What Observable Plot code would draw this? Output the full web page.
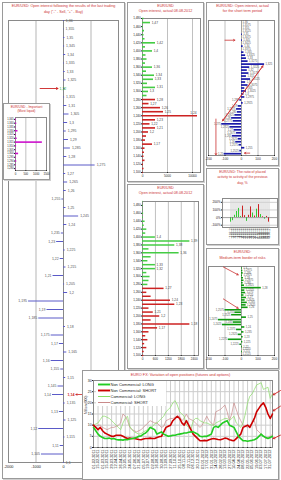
<!DOCTYPE html>
<html><head><meta charset="utf-8">
<script src="https://cdn.jsdelivr.net/npm/d3@7"></script>
<script src="https://cdn.jsdelivr.net/npm/@observablehq/plot@0.6"></script>
<style>
html,body{margin:0;padding:0;background:#fff;}
#root{position:relative;width:281px;height:480px;overflow:hidden;background:#fff;}
.panel{position:absolute;border:1px solid #9a9a9a;background:#fff;box-sizing:border-box;box-shadow:1px 1px 0 #d0d0d0;}
</style></head><body><div id="root"></div>
<script>
// ---------- DATA ----------
// Panel A: open interest after last trading day
const pricesA = [1.360,1.355,1.350,1.345,1.340,1.335,1.330,1.325,1.320,1.315,1.310,1.305,1.300,1.295,1.290,1.285,1.280,1.275,1.270,1.265,1.260,1.255,1.250,1.245,1.240,1.235,1.230,1.225,1.220,1.215,1.210,1.205,1.200,1.195,1.190,1.185,1.180,1.175,1.170,1.165,1.160,1.155,1.150,1.145,1.140,1.135,1.130,1.125,1.120,1.115,1.110,1.105,1.100];
const valuesA = [30,20,50,40,80,30,60,90,60,40,120,200,150,100,180,250,120,1150,80,150,100,-60,90,550,120,-80,-250,60,-120,90,-380,40,150,-1270,-600,-900,70,-450,-150,120,-450,-100,80,-200,-400,60,-150,90,-900,50,-120,-800,30];
const ticksA = [-2000,-1000,0,1000,2000];
const markA = {price:1.320, from:-850, to:-200};
const currentA = {price:1.140, from:900, to:450};
// Inset: most liquid levels
const pricesI = [1.345,1.340,1.335,1.330,1.325,1.320,1.315,1.310,1.305,1.300,1.295,1.290,1.285,1.280];
const valuesI = [40,60,30,120,40,80,1300,50,30,150,40,60,30,20];
const ticksI = [0,500,1000,1500];
// Panel B: open interest (options) 08.08.2012
const pricesB = [1.48,1.47,1.46,1.45,1.44,1.43,1.42,1.41,1.40,1.39,1.38,1.37,1.36,1.35,1.34,1.33,1.32,1.31,1.30,1.29,1.28,1.27,1.26,1.25,1.24,1.23,1.22,1.21,1.20,1.19,1.18,1.17,1.16,1.15,1.14,1.13,1.12,1.11,1.10];
const valuesB = [300,1600,200,400,300,500,2600,600,2000,700,900,600,2000,800,2400,2200,1000,2600,1200,900,2600,1300,3600,4200,11000,2600,1500,2600,1200,800,600,2000,500,400,300,500,200,300,150];
const ticksBy = [1.48,1.46,1.44,1.42,1.40,1.38,1.36,1.34,1.32,1.30,1.28,1.26,1.24,1.22,1.20,1.18,1.16,1.14,1.12,1.10];
const ticksBx = [0,5000,10000];
// Panel C: open interest 08.08.2012
const pricesC = [1.49,1.48,1.47,1.46,1.45,1.44,1.43,1.42,1.41,1.40,1.39,1.38,1.37,1.36,1.35,1.34,1.33,1.32,1.31,1.30,1.29,1.28,1.27,1.26,1.25,1.24,1.23,1.22,1.21,1.20,1.19,1.18,1.17,1.16,1.15,1.14,1.13,1.12,1.11,1.10];
const valuesC = [20,30,20,50,40,120,80,200,150,600,2200,1500,300,1700,400,250,600,600,200,350,300,250,1000,200,400,1300,1500,300,500,800,400,2200,700,300,150,250,100,200,80,60];
const ticksCx = [0,600,1200,1800,2400];
// Panel E: short term open interest
const pricesE = [1.3600,1.3575,1.3550,1.3525,1.3500,1.3475,1.3450,1.3425,1.3400,1.3375,1.3350,1.3325,1.3300,1.3275,1.3250,1.3225,1.3200,1.3175,1.3150,1.3125,1.3100,1.3075,1.3050,1.3025,1.3000,1.2975,1.2950,1.2925,1.2900,1.2875,1.2850,1.2825,1.2800,1.2775,1.2750,1.2725,1.2700,1.2675,1.2650,1.2625,1.2600,1.2575,1.2550,1.2525,1.2500];
const valuesE = [0,0,0,0,5,0,5,0,10,0,15,25,30,40,140,50,35,45,30,55,25,40,20,30,15,20,-10,10,-20,-30,-25,-40,-60,-50,-120,-70,-45,-30,-55,-20,-35,-15,20,-10,-105];
const ticksSym = [-200,-100,0,100,200];
const arrowsE = [
  {x1:-115,y1:1.2775,x2:130,y2:1.3235},{x1:130,y1:1.3235,x2:-115,y2:1.2775},
  {x1:-155,y1:1.2790,x2:-155,y2:1.2490},{x1:50,y1:1.2505,x2:18,y2:1.2505},
  {x1:-100,y1:1.3450,x2:-40,y2:1.3450}];
// Panel F: ratio of activity, %
const datesF = ["12.07.12","13.07.12","16.07.12","17.07.12","18.07.12","19.07.12","20.07.12","23.07.12","24.07.12","25.07.12","26.07.12","27.07.12","30.07.12","31.07.12","01.08.12","02.08.12","03.08.12","06.08.12","07.08.12","08.08.12"];
const valuesF = [-60,-40,30,80,120,15,150,25,-50,30,140,60,20,110,170,40,10,-20,15,-60];
const signF = ["g","g","g","g","g","g","r","r","g","r","r","g","r","g","r","g","r","g","r","r"];
const ticksF = [-100,0,100,200];
// Panel G: medium-term border of risks
const pricesG = [1.3000,1.2975,1.2950,1.2925,1.2900,1.2875,1.2850,1.2825,1.2800,1.2775,1.2750,1.2725,1.2700,1.2675,1.2650,1.2625,1.2600,1.2575,1.2550,1.2525,1.2500,1.2475,1.2450,1.2425,1.2400,1.2375,1.2350,1.2325,1.2300,1.2275,1.2250,1.2225,1.2200,1.2175,1.2150,1.2125];
const valuesG = [5,8,10,6,12,15,10,18,120,20,25,15,30,22,35,28,40,-100,-40,-60,30,-140,-50,-115,20,-30,15,-20,10,-80,8,-10,5,0,5,0];
const arrowsG = [{x1:-110,y1:1.3010,x2:-20,y2:1.2930},{x1:-110,y1:1.2685,x2:-20,y2:1.2590}];
// Panel D: EURO FX open positions (COT), weekly
const datesD = ["01.02.2011","15.02.2011","01.03.2011","15.03.2011","29.03.2011","12.04.2011","26.04.2011","10.05.2011","24.05.2011","07.06.2011","21.06.2011","05.07.2011","19.07.2011","02.08.2011","16.08.2011","30.08.2011","13.09.2011","27.09.2011","11.10.2011","25.10.2011","08.11.2011","22.11.2011","06.12.2011","20.12.2011","03.01.2012","17.01.2012","31.01.2012","14.02.2012","28.02.2012","13.03.2012","27.03.2012","10.04.2012","24.04.2012","08.05.2012","22.05.2012","05.06.2012","19.06.2012","03.07.2012","17.07.2012","31.07.2012"];
const ncLong = [9,7.5,6,5,4.5,4,4,4.2,3.8,4, 3.6,3.4,3.5,3.3,3.6,3.5,3.8,4,4.2,4.5, 5,5.2,6,6.5,7.5,9,8.5,8,6,6.5, 7,6,5.5,5,5.2,5.5,5.5,5.8,6,6.2, 6.5,6.5,6.8,7,7,6.5,6,5,4.8,5, 5,5.5,6,9,9.5,9,10,11,11.5,12, 10,9.5,9,7,5,4,3,3,2.8,3, 3.2,3.5,4,5,6,5,4.5,4,4.5,5];
const ncShort = [10,9,8,9,7.5,6.5,6,5.5,5,5, 5.5,5.5,5.5,5,4.5,4,4.2,4,4,3.8, 3.6,3.5,3.8,4,4,4.2,4,4,4.5,4.8, 5,7,9,9.5,10,12,13,14,13,11, 10,12,10,8,6,5,4,3,3,3.2, 3,3.5,3.8,4,3.8,3.6,3.5,3.8,4.2,4, 3.5,3.2,3,4,5,6,9,9.5,10,9, 11,13,16,17.5,19,20,18,15,13,15];
const commLong = [10,10.5,11,12.5,14,14,13.5,13,12,11, 10,9,8,11,13,14,9.5,8,7,6.5, 6,6.2,7,7.5,8,9,9.5,10.5,11,12, 13,14,16,17,18,20,21,19,16,15, 14,10,9,8,12,13,13,12,11.5,11, 11,10.5,10,10,11,11.5,12,12.5,13,13, 12,13,14,11,10,9,11,15,20,23, 24,26,28,28.5,29,26,26.5,27,22,24];
const commShort = [9,9.5,10,10,9,8.5,8,8.5,9,9, 9.5,10,11,15,14,12,9,8,7.5,7, 7.5,8,9,10,11,12,11.5,11,11,10, 9,9.5,12,12.5,13,13,13.5,14,14,12, 13,15,13,12.5,12,11,10,9,10,12, 14,12,11,10,16,16.5,17,18,19,16, 12,15,20,17,14,12,10,9.5,9,10, 11,12,8,7,6,5,4,4.5,5,6];
const ticksDy = [0,5,10,15,20,25,30];
const arrowsD = [{x1:82.5,y1:25.5,x2:79.3,y2:23.6},{x1:82.5,y1:18.5,x2:79.3,y2:16.4},{x1:82.5,y1:5.5,x2:79.3,y2:4.0}];
const seriesNames = ["Non Commercial: LONG","Non Commercial: SHORT","Commercial: LONG","Commercial: SHORT"];
const seriesColors = ["#22cc22","#cc0000","#88dd66","#c98a8a"];
const seriesWidths = [1.6,1.6,0.7,0.7];

// ---------- HELPERS ----------
const FONT = "Liberation Sans, Arial, sans-serif";
const TRED = "#cc3333";
const NS = "http://www.w3.org/2000/svg";
const root = document.getElementById("root");
const fmt = p => String(+p.toFixed(4)).replace(".", ",");
const fmt3 = p => d3.format(".3f")(p).replace(".", ",");
const tf = d => String(d);
const st = fs => ({fontSize: fs + "px", fontFamily: FONT, background: "transparent", overflow: "visible", color: "#222"});

function box(x, y, w, h, lines, y0, step, size) {
  const d = document.createElement("div");
  d.className = "panel";
  Object.assign(d.style, {left: x + "px", top: y + "px", width: w + "px", height: h + "px"});
  const s = document.createElementNS(NS, "svg");
  s.setAttribute("width", w); s.setAttribute("height", h);
  s.style.position = "absolute"; s.style.left = "-1px"; s.style.top = "-1px"; s.style.overflow = "visible";
  lines.forEach((t, i) => {
    const e = document.createElementNS(NS, "text");
    e.setAttribute("x", w / 2); e.setAttribute("y", y0 + i * step);
    e.setAttribute("text-anchor", "middle"); e.setAttribute("font-size", size);
    e.setAttribute("fill", TRED); e.setAttribute("font-family", FONT);
    e.textContent = t; s.appendChild(e);
  });
  d.appendChild(s); root.appendChild(d);
}
function put(svg, x, y) {
  svg.style.position = "absolute"; svg.style.left = x + "px"; svg.style.top = y + "px";
  root.appendChild(svg);
}
function ladder(prices, values) { return prices.map((p, i) => ({price: p, value: values[i]})); }

// ---------- PANEL A ----------
box(2, 2, 123, 477, ["EUR/USD: Open interest following the results of the last trading", "day (\"-\" - Sell, \"+\" - Buy)"], 4.6, 6, 3.7);
const rowsA = ladder(pricesA, valuesA);
put(Plot.plot({
  width: 121, height: 460, marginLeft: 5, marginRight: 6, marginTop: 6, marginBottom: 12,
  style: st(4),
  x: {domain: [-2000, 2000]},
  y: {domain: [1.10, 1.36], axis: null},
  marks: [
    Plot.gridX({ticks: [-1000, 1000], stroke: "#b5b5b5", strokeOpacity: 1}),
    Plot.frame({stroke: "#8a8a8a"}),
    Plot.ruleX([0], {stroke: "#555", strokeWidth: 0.7}),
    Plot.axisX({ticks: ticksA, tickFormat: tf, tickSize: 0, tickPadding: 2.5, fontSize: 3.8, label: null}),
    Plot.ruleY(rowsA, {y: "price", x1: 0, x2: "value", stroke: "#5a5ac8", strokeWidth: 1}),
    Plot.text(rowsA, {filter: d => d.value >= 0 && d.price !== markA.price, x: "value", y: "price", text: d => fmt(d.price), textAnchor: "start", dx: 1.5, fontSize: 3.5, fill: "#555"}),
    Plot.text(rowsA, {filter: d => d.value < 0, x: "value", y: "price", text: d => fmt(d.price), textAnchor: "end", dx: -1.5, fontSize: 3.5, fill: "#555"}),
    Plot.arrow([markA], {x1: "from", x2: "to", y1: "price", y2: "price", stroke: "#cc2222", strokeWidth: 0.9, headLength: 3}),
    Plot.text([markA], {x: 0, y: "price", text: d => fmt(d.price), textAnchor: "start", dx: -4, fontSize: 3.5, fill: "#22aa22"}),
    Plot.text([currentA], {x: 0, y: "price", text: d => fmt(d.price), textAnchor: "start", dx: 4, fontSize: 3.6, fill: "#cc2222", fontWeight: "bold"}),
    Plot.arrow([currentA], {x1: "from", x2: "to", y1: "price", y2: "price", stroke: "#cc2222", strokeWidth: 0.8, headLength: 2.5})
  ]
}), 3, 14);

// ---------- INSET ----------
box(3, 103, 47, 77, ["EUR/USD - Important", "(Most liquid)"], 4.6, 4.8, 3.3);
const rowsI = ladder(pricesI, valuesI);
put(Plot.plot({
  width: 45, height: 64, marginLeft: 11, marginRight: 3, marginTop: 3, marginBottom: 8,
  style: st(3),
  x: {domain: [0, 1500]},
  y: {domain: [1.2775, 1.3475]},
  marks: [
    Plot.gridX({ticks: [500, 1000], stroke: "#c0c0c0", strokeOpacity: 1}),
    Plot.frame({stroke: "#8a8a8a"}),
    Plot.axisX({ticks: ticksI, tickFormat: tf, tickSize: 1, tickPadding: 1, fontSize: 2.8, label: null}),
    Plot.axisY({ticks: pricesI, tickFormat: fmt3, tickSize: 1, tickPadding: 0.8, fontSize: 2.6, label: null}),
    Plot.ruleY(rowsI, {y: "price", x1: 0, x2: "value", stroke: "#cc11cc", strokeWidth: 1.6})
  ]
}), 4, 114);

// ---------- PANEL B ----------
box(127, 2, 77, 180, ["EUR/USD", "Open interest, actual 08.08.2012"], 4.6, 4.9, 3.7);
const rowsB = ladder(pricesB, valuesB);
put(Plot.plot({
  width: 75, height: 166, marginLeft: 14, marginRight: 3, marginTop: 3, marginBottom: 9,
  style: st(3.4),
  x: {domain: [0, 11600]},
  y: {domain: [1.10, 1.48]},
  marks: [
    Plot.gridX({ticks: [5000, 10000], stroke: "#c0c0c0", strokeOpacity: 1}),
    Plot.frame({stroke: "#8a8a8a"}),
    Plot.axisX({ticks: ticksBx, tickFormat: tf, tickSize: 1, tickPadding: 1, fontSize: 3.1, label: null}),
    Plot.axisY({ticks: ticksBy, tickFormat: fmt3, tickSize: 1, tickPadding: 0.8, fontSize: 3.0, label: null}),
    Plot.ruleY(rowsB, {y: "price", x1: 0, x2: "value", stroke: d => d.price >= 1.29 ? "#44cc44" : "#cc2222", strokeWidth: 1.6}),
    Plot.text(rowsB, {filter: d => d.value > 1100 && d.value < 10000, x: "value", y: "price", text: d => fmt(d.price), textAnchor: "start", dx: 1.2, fontSize: 3.2, fill: "#444"}),
    Plot.text(rowsB, {filter: d => d.value >= 10000, x: "value", y: "price", text: d => fmt(d.price), textAnchor: "end", dx: -1, dy: -2.5, fontSize: 3.2, fill: "#444"})
  ]
}), 128, 15);

// ---------- PANEL C ----------
box(127, 184, 77, 185, ["EUR/USD", "Open interest, actual 08.08.2012"], 4.6, 4.9, 3.7);
const rowsC = ladder(pricesC, valuesC);
put(Plot.plot({
  width: 75, height: 170, marginLeft: 14, marginRight: 5, marginTop: 3, marginBottom: 13,
  style: st(3.4),
  x: {domain: [0, 2600]},
  y: {domain: [1.10, 1.49]},
  marks: [
    Plot.gridX({ticks: [600, 1200, 1800, 2400], stroke: "#c0c0c0", strokeOpacity: 1}),
    Plot.frame({stroke: "#8a8a8a"}),
    Plot.axisX({ticks: ticksCx, tickFormat: tf, tickSize: 1, tickPadding: 1.5, fontSize: 3.1, label: null}),
    Plot.axisY({ticks: ticksBy, tickFormat: fmt3, tickSize: 1, tickPadding: 0.8, fontSize: 3.0, label: null}),
    Plot.ruleY(rowsC, {y: "price", x1: 0, x2: "value", stroke: d => d.price >= 1.28 ? "#44cc44" : "#cc2222", strokeWidth: 1.5}),
    Plot.text(rowsC, {filter: d => d.value >= 500, x: "value", y: "price", text: d => fmt(d.price), textAnchor: "start", dx: 1.2, fontSize: 3.2, fill: "#444"})
  ]
}), 128, 198);

// ---------- PANEL E ----------
box(206, 2, 73, 164, ["EUR/USD: Open interest, actual", "for the short term period"], 5.0, 5.3, 3.7);
const rowsE = ladder(pricesE, valuesE);
put(Plot.plot({
  width: 71, height: 150, marginLeft: 1, marginRight: 4, marginTop: 4, marginBottom: 11,
  style: st(3.3),
  x: {domain: [-200, 200]},
  y: {domain: [1.2485, 1.3615], axis: null},
  marks: [
    Plot.gridX({ticks: [-100, 100], stroke: "#c0c0c0", strokeOpacity: 1}),
    Plot.frame({stroke: "#8a8a8a"}),
    Plot.ruleX([0], {stroke: "#666", strokeWidth: 0.6}),
    Plot.axisX({ticks: ticksSym, tickFormat: tf, tickSize: 1, tickPadding: 1.5, fontSize: 3.2, label: null}),
    Plot.ruleY(rowsE, {y: "price", x1: 0, x2: "value", stroke: "#1a1aa8", strokeWidth: 1.7}),
    Plot.text(rowsE, {filter: d => d.value >= 0, x: "value", y: "price", text: d => fmt(d.price), textAnchor: "start", dx: 1, fontSize: 2.7, fill: "#555"}),
    Plot.text(rowsE, {filter: d => d.value < 0, x: "value", y: "price", text: d => fmt(d.price), textAnchor: "end", dx: -1, fontSize: 2.7, fill: "#555"}),
    Plot.arrow(arrowsE, {x1: "x1", y1: "y1", x2: "x2", y2: "y2", stroke: "#cc3333", strokeWidth: 0.8, headLength: 3})
  ]
}), 207, 16);

// ---------- PANEL F ----------
box(206, 168, 73, 77, ["EUR/USD: The ratio of placed", "activity to activity of the previous", "day, %"], 5, 5.3, 3.5);
const rowsF = datesF.map((d, i) => ({date: d, value: valuesF[i], sign: signF[i]}));
put(Plot.plot({
  width: 71, height: 55, marginLeft: 15, marginRight: 1, marginTop: 8, marginBottom: 18,
  style: st(3),
  x: {domain: datesF, padding: 0.3},
  y: {domain: [-130, 250]},
  marks: [
    Plot.gridX({stroke: "#d0d0d0", strokeOpacity: 1}),
    Plot.gridY({ticks: ticksF, stroke: "#d0d0d0", strokeOpacity: 1}),
    Plot.frame({stroke: "#8a8a8a"}),
    Plot.barY(rowsF, {x: "date", y: "value", fill: d => d.sign === "g" ? "#33cc33" : "#cc2222"}),
    Plot.ruleY([0], {stroke: "#777", strokeWidth: 0.5}),
    Plot.axisY({ticks: ticksF, tickFormat: d => d + "%", tickSize: 1, tickPadding: 0.8, fontSize: 3.2, label: null}),
    Plot.axisX({tickRotate: -90, tickSize: 0, tickPadding: 1, fontSize: 2.6, label: null})
  ]
}), 207, 190);

// ---------- PANEL G ----------
box(206, 248, 73, 121, ["EUR/USD:", "Medium-term border of risks"], 5.2, 5.5, 3.7);
const rowsG = ladder(pricesG, valuesG);
put(Plot.plot({
  width: 71, height: 106, marginLeft: 1, marginRight: 4, marginTop: 4, marginBottom: 13,
  style: st(3.3),
  x: {domain: [-200, 200]},
  y: {domain: [1.2110, 1.3015], axis: null},
  marks: [
    Plot.gridX({ticks: [-100, 100], stroke: "#c0c0c0", strokeOpacity: 1}),
    Plot.frame({stroke: "#8a8a8a"}),
    Plot.ruleX([0], {stroke: "#666", strokeWidth: 0.6}),
    Plot.axisX({ticks: ticksSym, tickFormat: tf, tickSize: 1, tickPadding: 1.5, fontSize: 3.2, label: null}),
    Plot.ruleY(rowsG, {y: "price", x1: 0, x2: "value", stroke: "#119911", strokeWidth: 1.6}),
    Plot.text(rowsG, {filter: d => d.value >= 0, x: "value", y: "price", text: d => fmt(d.price), textAnchor: "start", dx: 1, fontSize: 2.7, fill: "#555"}),
    Plot.text(rowsG, {filter: d => d.value < 0, x: "value", y: "price", text: d => fmt(d.price), textAnchor: "end", dx: -1, fontSize: 2.7, fill: "#555"}),
    Plot.arrow(arrowsG, {x1: "x1", y1: "y1", x2: "x2", y2: "y2", stroke: "#cc3333", strokeWidth: 0.8, headLength: 3})
  ]
}), 207, 262);

// ---------- PANEL D ----------
box(82, 370, 197, 110, ["EURO FX: Variation of open positions (futures and options)"], 6.2, 6, 3.8);
const ticksDx = datesD.map((d, i) => i * 2);
const series = [ncLong, ncShort, commLong, commShort];
put(Plot.plot({
  width: 196, height: 102, marginLeft: 10, marginRight: 7, marginTop: 3, marginBottom: 32,
  style: st(3.6),
  x: {domain: [0, 79]},
  y: {domain: [0, 30]},
  marks: [
    Plot.gridX({ticks: ticksDx, stroke: "#cdcdcd", strokeOpacity: 1}),
    Plot.gridY({ticks: ticksDy, stroke: "#cdcdcd", strokeOpacity: 1}),
    Plot.frame({stroke: "#8a8a8a"}),
    Plot.axisY({ticks: ticksDy, tickSize: 1, tickPadding: 0.8, fontSize: 3.5, label: null}),
    Plot.axisX({ticks: ticksDx, tickFormat: i => datesD[i / 2], tickRotate: -90, tickSize: 1, tickPadding: 1, fontSize: 3.9, label: null}),
    Plot.text(["Million (000)"], {text: d => d, frameAnchor: "left", rotate: -90, dx: -7.5, fontSize: 3.4, fill: "#333"}),
    ...[3, 2, 1, 0].map(k => Plot.line(series[k], {x: (d, i) => i, y: d => d, stroke: seriesColors[k], strokeWidth: seriesWidths[k]})),
    Plot.arrow(arrowsD, {x1: "x1", y1: "y1", x2: "x2", y2: "y2", stroke: "#cc2222", strokeWidth: 0.9, headLength: 3})
  ]
}), 83, 377);

// legend (inside panel D)
(function () {
  const s = document.createElementNS(NS, "svg");
  s.setAttribute("width", 70); s.setAttribute("height", 25);
  const bg = document.createElementNS(NS, "rect");
  bg.setAttribute("width", 70); bg.setAttribute("height", 25); bg.setAttribute("fill", "#fff");
  s.appendChild(bg);
  seriesNames.forEach((n, i) => {
    const yy = 3.5 + i * 6;
    const l = document.createElementNS(NS, "line");
    l.setAttribute("x1", 2); l.setAttribute("x2", 14); l.setAttribute("y1", yy); l.setAttribute("y2", yy);
    l.setAttribute("stroke", seriesColors[i]); l.setAttribute("stroke-width", seriesWidths[i] + 0.3);
    s.appendChild(l);
    const t = document.createElementNS(NS, "text");
    t.setAttribute("x", 14.5); t.setAttribute("y", yy + 1.4); t.setAttribute("font-size", 4);
    t.setAttribute("font-family", FONT); t.setAttribute("fill", "#222"); t.textContent = n;
    s.appendChild(t);
  });
  put(s, 96, 381);
})();
</script></body></html>
